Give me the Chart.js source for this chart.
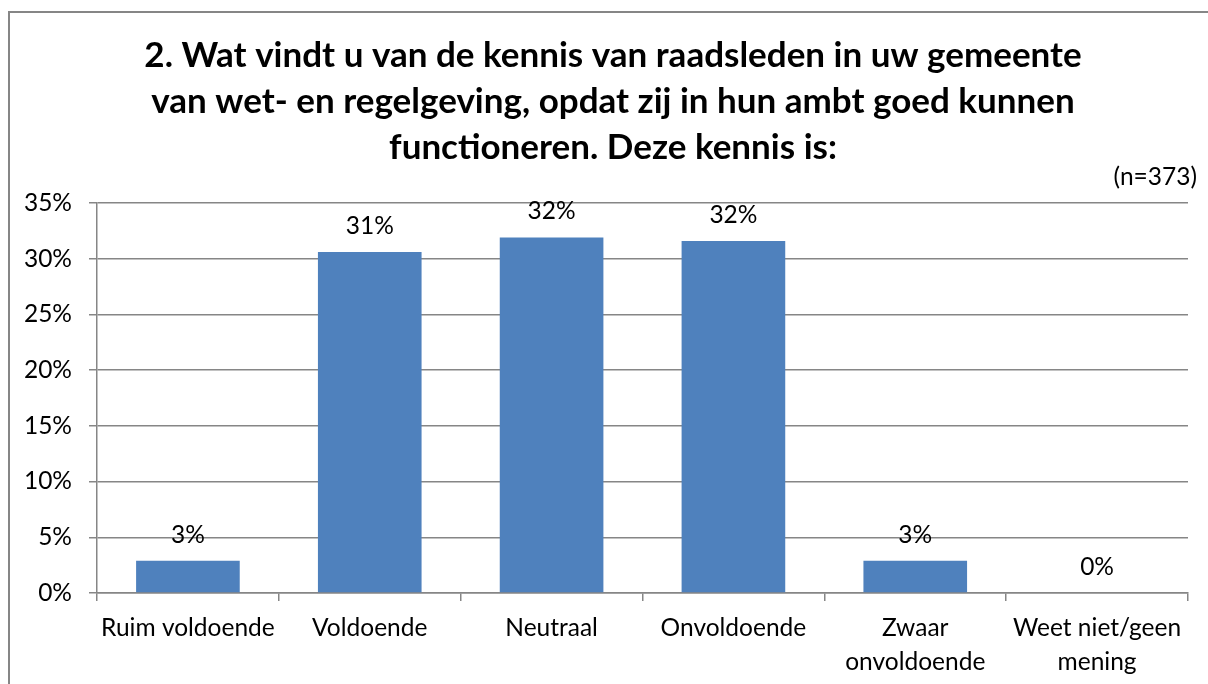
<!DOCTYPE html>
<html>
<head>
<meta charset="utf-8">
<script src="https://cdn.jsdelivr.net/npm/chart.js@4"></script>
<style>
  body { margin: 0; background: #fff; }
  canvas { display: block; }
</style>
</head>
<body>
<canvas id="kennisChart" width="1208" height="684"></canvas>
<script>
// Data
const categories = ['Ruim voldoende', 'Voldoende', 'Neutraal', 'Onvoldoende', ['Zwaar', 'onvoldoende'], ['Weet niet/geen', 'mening']];
const percentages = [2.9, 30.6, 31.9, 31.6, 2.9, 0];
const titleLines = [
    '2. Wat vindt u van de kennis van raadsleden in uw gemeente',
    'van wet- en regelgeving, opdat zij in hun ambt goed kunnen',
    'functioneren. Deze kennis is:'
];
const sampleNote = '(n=373)';

const FONT = 'Lato, "Open Sans", sans-serif';
const GRAY = '#868686';

// Draws the frame, the title, the n-note and the value labels above bars
const decorations = {
    id: 'decorations',
    beforeDraw(chart) {
        const ctx = chart.ctx;
        ctx.save();
        ctx.strokeStyle = GRAY;
        ctx.lineWidth = 2;
        ctx.strokeRect(9, 12, 1300, 800);
        ctx.restore();
    },
    afterDatasetsDraw(chart) {
        const ctx = chart.ctx;
        ctx.save();
        ctx.fillStyle = '#000';
        ctx.textAlign = 'center';
        ctx.textBaseline = 'alphabetic';
        ctx.font = 'bold 35px ' + FONT;
        titleLines.forEach((line, i) => {
            ctx.fillText(line, 613, 67 + i * 46);
        });

        ctx.font = '24.5px ' + FONT;
        ctx.textAlign = 'right';
        ctx.textBaseline = 'middle';
        ctx.fillText(sampleNote, 1197, 177);

        // value labels
        ctx.textAlign = 'center';
        const meta = chart.getDatasetMeta(0);
        meta.data.forEach((bar, i) => {
            ctx.fillText(Math.round(percentages[i]) + '%', bar.x, bar.y - 26);
        });
        ctx.restore();
    }
};

const ctx = document.getElementById('kennisChart').getContext('2d');
const kennisChart = new Chart(ctx, {
    type: 'bar',
    data: {
        labels: categories,
        datasets: [{
            data: percentages,
            backgroundColor: '#4F81BD',
            borderWidth: 0,
            barPercentage: 0.57,
            categoryPercentage: 1
        }]
    },
    options: {
        responsive: false,
        animation: false,
        layout: {
            padding: { top: 203, right: 20, left: 0, bottom: 0 }
        },
        plugins: {
            legend: { display: false },
            tooltip: { enabled: false }
        },
        scales: {
            x: {
                grid: {
                    drawOnChartArea: false,
                    drawTicks: true,
                    tickLength: 8,
                    color: GRAY,
                    lineWidth: 1.5
                },
                border: { color: GRAY, width: 1.5 },
                ticks: {
                    color: '#000',
                    padding: 10,
                    maxRotation: 0,
                    autoSkip: false,
                    font: { family: FONT, size: 24.5, lineHeight: 1.4 }
                },
                afterFit(scale) { scale.height = 91; }
            },
            y: {
                min: 0,
                max: 35,
                grid: {
                    color: GRAY,
                    lineWidth: 1.5,
                    tickLength: 8
                },
                border: { color: GRAY, width: 1.5 },
                ticks: {
                    stepSize: 5,
                    color: '#000',
                    padding: 17,
                    font: { family: FONT, size: 24.5 },
                    callback: value => value + '%'
                },
                afterFit(scale) { scale.width = 97; }
            }
        }
    },
    plugins: [decorations]
});
</script>
</body>
</html>
